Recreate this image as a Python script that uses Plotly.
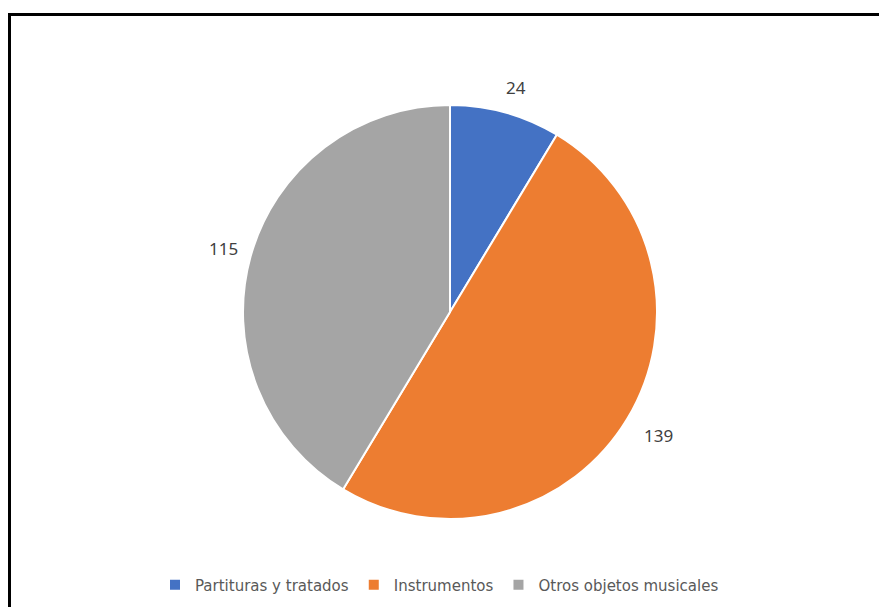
import math
import plotly.graph_objects as go

categories = ["Partituras y tratados", "Instrumentos", "Otros objetos musicales"]
values = [24, 139, 115]
colors = ["#4472C4", "#ED7D31", "#A5A5A5"]

W, H = 879, 607
cx, cy, R = 450, 312, 207       # pie centre and radius in pixels
gap = 16                         # space between slice edge and label box
digit_w, text_h = 9.5, 16        # approximate label glyph metrics

fig = go.Figure(go.Pie(
    labels=categories,
    values=values,
    marker=dict(colors=colors, line=dict(color="white", width=2)),
    sort=False,
    direction="clockwise",
    rotation=0,
    textinfo="none",
    hoverinfo="label+value",
    domain=dict(x=[(cx - R) / W, (cx + R) / W], y=[1 - (cy + R) / H, 1 - (cy - R) / H]),
))

# value labels placed outside each slice at its mid-angle
total = sum(values)
acc = 0
annotations = []
for v in values:
    mid = (acc + v / 2) / total * 2 * math.pi
    acc += v
    s, c = math.sin(mid), math.cos(mid)
    half = abs(s) * len(str(v)) * digit_w / 2 + abs(c) * text_h / 2
    d = R + gap + half
    px = cx + d * s + 4
    py = cy - d * c
    annotations.append(dict(
        x=px / W, y=1 - py / H, xref="paper", yref="paper",
        text=str(v), showarrow=False,
        font=dict(size=17, color="#404040", family="Noto Sans"),
        xanchor="center", yanchor="middle",
    ))

fig.update_layout(
    width=W, height=H,
    margin=dict(l=0, r=0, t=0, b=0),
    paper_bgcolor="white",
    plot_bgcolor="white",
    font=dict(family="DejaVu Sans", color="#595959"),
    showlegend=True,
    legend=dict(
        orientation="h", x=0.5, xanchor="center", y=1 - 585 / H, yanchor="middle",
        font=dict(size=15, color="#595959", family="DejaVu Sans"),
        itemwidth=30,
    ),
    annotations=annotations,
    shapes=[dict(
        type="rect", xref="paper", yref="paper",
        x0=9.5 / W, y0=1 - 14.5 / H, x1=1.05, y1=-0.05,
        line=dict(color="black", width=3), fillcolor="rgba(0,0,0,0)",
    )],
)

fig.write_html("out.html")
